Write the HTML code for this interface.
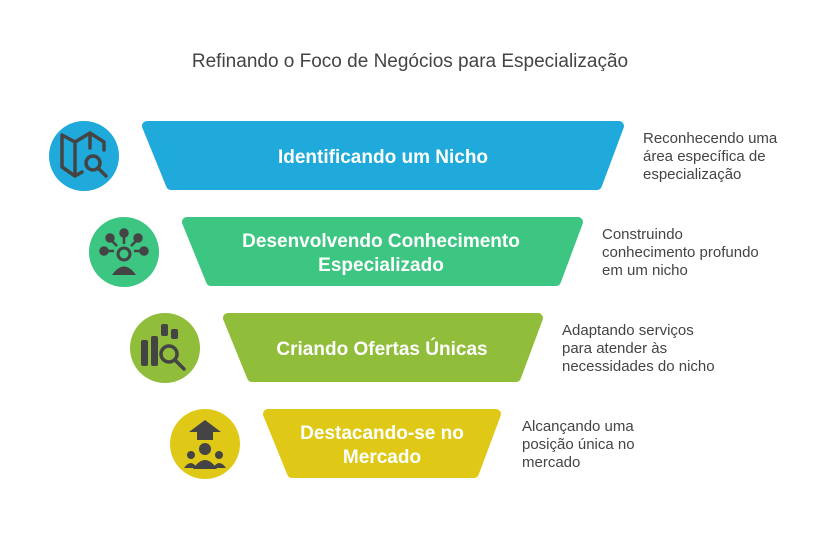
<!DOCTYPE html>
<html><head><meta charset="utf-8"><style>
html,body{margin:0;padding:0;background:#fff;}
svg{display:block;font-family:"Liberation Sans",sans-serif;}
</style></head><body>
<svg width="821" height="552" viewBox="0 0 821 552" xmlns="http://www.w3.org/2000/svg">
<text x="410" y="67" text-anchor="middle" font-size="19" fill="#444">Refinando o Foco de Negócios para Especialização</text>

<g stroke-linejoin="round" stroke-width="10">
<polygon points="147,126 619,126 597,185 171,185" fill="#1faadb" stroke="#1faadb"/>
<polygon points="187,222 578,222 556,281 211,281" fill="#3dc582" stroke="#3dc582"/>
<polygon points="228,318 538,318 516,377 252,377" fill="#90bd3a" stroke="#90bd3a"/>
<polygon points="268,414 496,414 474,473 292,473" fill="#dfc916" stroke="#dfc916"/>
</g>

<g fill="#fff" font-weight="bold" font-size="19" text-anchor="middle">
<text x="383" y="163">Identificando um Nicho</text>
<text x="381" y="247">Desenvolvendo Conhecimento</text>
<text x="381" y="271">Especializado</text>
<text x="382" y="355">Criando Ofertas Únicas</text>
<text x="382" y="439">Destacando-se no</text>
<text x="382" y="463">Mercado</text>
</g>

<g fill="#444" font-size="15">
<text x="643" y="143">Reconhecendo uma</text>
<text x="643" y="161">área específica de</text>
<text x="643" y="179">especialização</text>
<text x="602" y="239">Construindo</text>
<text x="602" y="257">conhecimento profundo</text>
<text x="602" y="275">em um nicho</text>
<text x="562" y="335">Adaptando serviços</text>
<text x="562" y="353">para atender às</text>
<text x="562" y="371">necessidades do nicho</text>
<text x="522" y="431">Alcançando uma</text>
<text x="522" y="449">posição única no</text>
<text x="522" y="467">mercado</text>
</g>

<circle cx="84" cy="156" r="35" fill="#1faadb"/>
<circle cx="124" cy="252" r="35" fill="#3dc582"/>
<circle cx="165" cy="348" r="35" fill="#90bd3a"/>
<circle cx="205" cy="444" r="35" fill="#dfc916"/>

<g fill="none" stroke="#444" stroke-width="3.5" stroke-linejoin="round" stroke-linecap="round">
<path d="M62,135 L62,167 L75,176 L75,142 Z M75,142 L90,133 L104,142 L104,150 M90,133 L90,148 M75,176 L82,172"/>
<circle cx="93" cy="163" r="7"/>
<path d="M98,168 L106,176"/>
</g>
<g fill="#444" stroke="#444" stroke-width="2.5">
<circle cx="124" cy="233" r="3.5"/><path d="M124,236 L124,244"/>
<circle cx="110" cy="238" r="3.5"/><path d="M112,241 L117,246"/>
<circle cx="138" cy="238" r="3.5"/><path d="M136,241 L131,246"/>
<circle cx="104" cy="251" r="3.5"/><path d="M107,251 L114,251"/>
<circle cx="144" cy="251" r="3.5"/><path d="M141,251 L134,251"/>
<circle cx="124" cy="254" r="6" fill="none" stroke-width="3"/>
<path d="M112,275 Q124,258 136,275 Z" stroke="none"/>
</g>
<g fill="#444">
<rect x="141" y="340" width="7" height="26" rx="2"/>
<rect x="151" y="336" width="7" height="30" rx="2"/>
<rect x="161" y="324" width="7" height="12" rx="2"/>
<rect x="171" y="329" width="7" height="10" rx="2"/>
</g>
<g fill="none" stroke="#444" stroke-width="3.5" stroke-linecap="round">
<circle cx="169" cy="354" r="8"/><path d="M175,360 L184,369"/>
</g>
<g fill="#444">
<polygon points="205,420 221,432 213,432 213,440 197,440 197,432 189,432"/>
<circle cx="205" cy="449" r="6"/>
<path d="M193,469 Q205,451 217,469 Z"/>
<circle cx="191" cy="455" r="4"/><path d="M184,468 Q191,458 197,468 Z"/>
<circle cx="219" cy="455" r="4"/><path d="M213,468 Q219,458 226,468 Z"/>
</g>
</svg>
</body></html>
